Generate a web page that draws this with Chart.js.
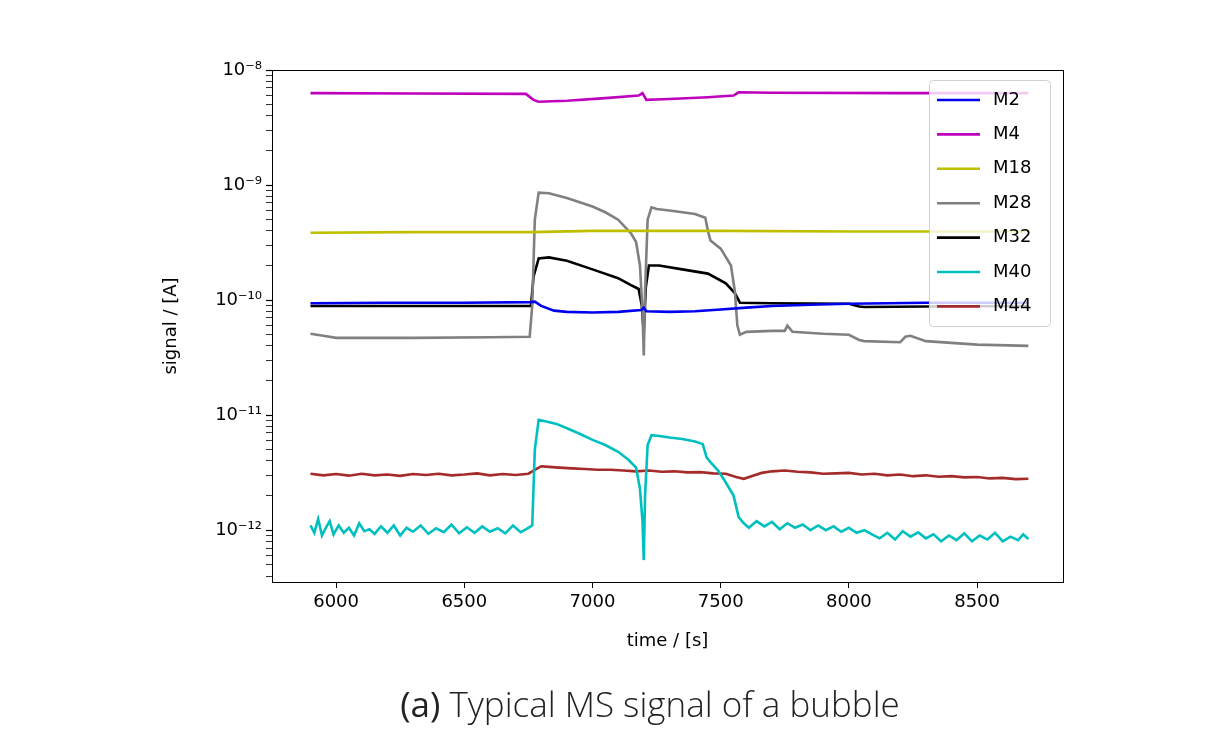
<!DOCTYPE html>
<html><head><meta charset="utf-8">
<script src="https://cdn.jsdelivr.net/npm/chart.js@4/dist/chart.umd.min.js"></script>
<style>
body{margin:0;background:#fff;width:1220px;height:740px;overflow:hidden;position:relative}
#c{position:absolute;left:0;top:0}
#cap{position:absolute;top:680px;left:40px;width:1220px;text-align:center;font-family:"Open Sans";font-weight:300;font-size:35px;color:#222}
</style></head><body>
<canvas id="c" width="1220" height="740"></canvas>
<div id="cap"><span style="font-weight:400">(a)</span> Typical MS signal of a bubble</div>
<script>
const seriesNames = ["M2","M4","M18","M28","M32","M40","M44"];
const seriesColors = ["#0000ee","#bf00bf","#bfbf00","#808080","#000000","#00bfbf","#a52a2a"];
const xTicks = [6000,6500,7000,7500,8000,8500];
const yTickPowers = [-8,-9,-10,-11,-12];

const m2T = [5900,6200,6500,6760,6775,6800,6850,6900,7000,7100,7190,7200,7210,7300,7400,7500,7600,7700,7850,8000,8300,8700];
const m2V = [9.4e-11,9.5e-11,9.5e-11,9.6e-11,9.7e-11,8.9e-11,8.1e-11,7.9e-11,7.8e-11,7.9e-11,8.2e-11,8.6e-11,8.0e-11,7.9e-11,8.0e-11,8.3e-11,8.6e-11,8.9e-11,9.1e-11,9.3e-11,9.5e-11,9.5e-11];

const m4T = [5900,6300,6740,6770,6790,6900,7050,7180,7195,7210,7300,7450,7550,7570,7700,8200,8700];
const m4V = [6.3e-9,6.25e-9,6.2e-9,5.5e-9,5.3e-9,5.4e-9,5.7e-9,6.0e-9,6.3e-9,5.5e-9,5.6e-9,5.8e-9,6.0e-9,6.4e-9,6.35e-9,6.3e-9,6.3e-9];

const m18T = [5900,6300,6760,7000,7500,8000,8700];
const m18V = [3.85e-10,3.9e-10,3.9e-10,4.0e-10,4.0e-10,3.95e-10,3.95e-10];

const m28T = [5900,5950,6000,6300,6600,6755,6765,6775,6790,6830,6900,7000,7050,7100,7150,7170,7185,7195,7200,7205,7215,7230,7250,7300,7400,7440,7450,7460,7500,7540,7555,7565,7575,7600,7700,7750,7760,7780,7900,8000,8040,8060,8200,8220,8240,8300,8500,8700];
const m28V = [5.1e-11,4.9e-11,4.7e-11,4.7e-11,4.75e-11,4.8e-11,9e-11,5e-10,8.6e-10,8.5e-10,7.7e-10,6.5e-10,5.8e-10,5e-10,3.8e-10,3.2e-10,2.0e-10,8e-11,3.3e-11,1.2e-10,5e-10,6.4e-10,6.2e-10,6.0e-10,5.6e-10,5.2e-10,4.0e-10,3.3e-10,2.8e-10,2.0e-10,1.2e-10,6e-11,5e-11,5.3e-11,5.4e-11,5.4e-11,6e-11,5.3e-11,5.1e-11,5e-11,4.5e-11,4.4e-11,4.3e-11,4.8e-11,4.9e-11,4.4e-11,4.1e-11,4.0e-11];

const m32T = [5900,6300,6760,6770,6790,6830,6900,7000,7100,7150,7180,7192,7200,7208,7220,7260,7350,7450,7520,7555,7575,7700,8000,8040,8060,8300,8700];
const m32V = [8.9e-11,8.9e-11,8.9e-11,1.6e-10,2.3e-10,2.35e-10,2.2e-10,1.85e-10,1.55e-10,1.35e-10,1.25e-10,9e-11,5.2e-11,1.3e-10,2.0e-10,2.0e-10,1.85e-10,1.7e-10,1.4e-10,1.15e-10,9.5e-11,9.4e-11,9.3e-11,8.8e-11,8.7e-11,8.8e-11,8.9e-11];

const m40T = [5900,5915,5930,5945,5960,5975,5990,6010,6030,6050,6070,6090,6110,6130,6150,6175,6200,6225,6250,6275,6300,6330,6360,6390,6420,6450,6480,6510,6540,6570,6600,6630,6660,6690,6720,6750,6765,6775,6790,6820,6860,6900,6950,7000,7050,7100,7140,7170,7185,7195,7200,7205,7215,7230,7260,7300,7350,7400,7430,7445,7460,7490,7520,7550,7570,7590,7610,7640,7670,7700,7730,7760,7790,7820,7850,7880,7910,7940,7970,8000,8030,8060,8090,8120,8150,8180,8210,8240,8270,8300,8330,8360,8390,8420,8450,8480,8510,8540,8570,8600,8630,8660,8680,8700];
const m40V = [1.1e-12,0.95e-12,1.25e-12,0.9e-12,1.05e-12,1.2e-12,0.92e-12,1.1e-12,0.95e-12,1.05e-12,0.9e-12,1.15e-12,0.98e-12,1.02e-12,0.93e-12,1.08e-12,0.95e-12,1.1e-12,0.9e-12,1.05e-12,0.97e-12,1.1e-12,0.93e-12,1.04e-12,0.96e-12,1.12e-12,0.94e-12,1.06e-12,0.95e-12,1.08e-12,0.97e-12,1.04e-12,0.94e-12,1.1e-12,0.96e-12,1.05e-12,1.1e-12,5e-12,9.1e-12,8.8e-12,8.4e-12,7.7e-12,6.9e-12,6.1e-12,5.5e-12,4.8e-12,4.1e-12,3.5e-12,2.3e-12,1.2e-12,5.5e-13,2e-12,5.5e-12,6.7e-12,6.6e-12,6.4e-12,6.2e-12,5.9e-12,5.6e-12,4.3e-12,3.9e-12,3.3e-12,2.6e-12,2.0e-12,1.3e-12,1.15e-12,1.05e-12,1.2e-12,1.08e-12,1.18e-12,1.02e-12,1.15e-12,1.05e-12,1.12e-12,1.0e-12,1.1e-12,1.0e-12,1.08e-12,0.97e-12,1.05e-12,0.95e-12,1.0e-12,0.92e-12,0.85e-12,0.95e-12,0.83e-12,0.98e-12,0.88e-12,0.96e-12,0.85e-12,0.92e-12,0.8e-12,0.9e-12,0.82e-12,0.94e-12,0.8e-12,0.9e-12,0.83e-12,0.95e-12,0.8e-12,0.88e-12,0.82e-12,0.92e-12,0.84e-12];

const m44T = [5900,5950,6000,6050,6100,6150,6200,6250,6300,6350,6400,6450,6500,6550,6600,6650,6700,6750,6780,6800,6830,6870,6920,6970,7020,7070,7120,7170,7220,7270,7320,7370,7420,7470,7520,7560,7590,7620,7660,7700,7750,7800,7850,7900,7950,8000,8050,8100,8150,8200,8250,8300,8350,8400,8450,8500,8550,8600,8650,8700];
const m44V = [3.1e-12,3.0e-12,3.08e-12,2.98e-12,3.1e-12,3.0e-12,3.05e-12,2.97e-12,3.08e-12,3.02e-12,3.1e-12,3.0e-12,3.05e-12,3.12e-12,3.0e-12,3.08e-12,3.02e-12,3.1e-12,3.4e-12,3.6e-12,3.55e-12,3.5e-12,3.45e-12,3.4e-12,3.35e-12,3.35e-12,3.3e-12,3.25e-12,3.3e-12,3.22e-12,3.25e-12,3.18e-12,3.2e-12,3.12e-12,3.1e-12,2.9e-12,2.8e-12,2.95e-12,3.15e-12,3.25e-12,3.3e-12,3.22e-12,3.18e-12,3.1e-12,3.12e-12,3.15e-12,3.05e-12,3.1e-12,3.0e-12,3.05e-12,2.95e-12,3.0e-12,2.92e-12,2.95e-12,2.88e-12,2.9e-12,2.82e-12,2.85e-12,2.78e-12,2.8e-12];

const allT = [m2T,m4T,m18T,m28T,m32T,m40T,m44T];
const allV = [m2V,m4V,m18V,m28V,m32V,m40V,m44V];

const sup = {"-":"⁻","0":"⁰","1":"¹","2":"²","3":"³","4":"⁴","5":"⁵","6":"⁶","7":"⁷","8":"⁸","9":"⁹"};
const FONT = "DejaVu Sans";

const datasets = seriesNames.map((n,i)=>({
  label:n,
  data: allT[i].map((t,k)=>({x:t,y:allV[i][k]})),
  borderColor: seriesColors[i], borderWidth:2.6, pointRadius:0, tension:0, fill:false
}));

const extras = {
  id:'extras',
  afterDraw(chart){
    const {ctx, chartArea:a} = chart;
    ctx.save();
    ctx.strokeStyle='#000'; ctx.lineWidth=1;
    ctx.strokeRect(a.left+0.5,a.top+0.5,a.right-a.left,a.bottom-a.top);
    ctx.fillStyle='#000'; ctx.font='18px "'+FONT+'"';
    ctx.textAlign='center'; ctx.textBaseline='middle';
    ctx.fillText('time / [s]',(a.left+a.right)/2,641);
    ctx.translate(171,(a.top+a.bottom)/2); ctx.rotate(-Math.PI/2);
    ctx.fillText('signal / [A]',0,0);
    ctx.restore();
    ctx.save();
    const lx=929, ly=80, lw=121, lh=246;
    ctx.fillStyle='rgba(255,255,255,0.8)'; ctx.strokeStyle='#d0d0d0'; ctx.lineWidth=1;
    ctx.beginPath(); ctx.roundRect(lx+0.5,ly+0.5,lw,lh,4); ctx.fill(); ctx.stroke();
    ctx.font='18px "'+FONT+'"'; ctx.textBaseline='middle'; ctx.textAlign='left';
    seriesNames.forEach((n,i)=>{
      const y=100+i*34.4;
      ctx.strokeStyle=seriesColors[i]; ctx.lineWidth=2.6;
      ctx.beginPath(); ctx.moveTo(937,y); ctx.lineTo(980,y); ctx.stroke();
      ctx.fillStyle='#000'; ctx.fillText(n,993,y);
    });
    ctx.restore();
  }
};

new Chart(document.getElementById('c'),{
  type:'line',
  data:{datasets},
  options:{
    responsive:false, animation:false,
    layout:{padding:{left:150,top:70,right:157,bottom:78}},
    plugins:{legend:{display:false},tooltip:{enabled:false}},
    scales:{
      x:{type:'linear',min:5750,max:8835,
        afterFit(s){s.height=80;},
        afterBuildTicks(s){s.ticks=xTicks.map(v=>({value:v}));},
        grid:{drawOnChartArea:false,tickLength:6,color:'#000'},
        border:{display:false},
        ticks:{color:'#000',font:{family:FONT,size:18},padding:4,maxRotation:0,callback:v=>String(v)}},
      y:{type:'logarithmic',min:Math.pow(10,-12.45),max:1e-8,
        afterFit(s){s.width=122;},
        afterBuildTicks(s){
          const t=[];
          for(let p=-13;p<=-9;p++) for(let m=1;m<=9;m++){const v=m*Math.pow(10,p); if(v>=s.min*0.999&&v<=s.max*1.001) t.push({value:v});}
          t.push({value:1e-8});
          s.ticks=t;
        },
        grid:{drawOnChartArea:false,tickLength:6,color:'#000',
          tickWidth:c=>{const l=Math.log10(c.tick.value);return Math.abs(l-Math.round(l))<1e-6?1.2:0.8;}},
        border:{display:false},
        ticks:{color:'#000',font:{family:FONT,size:18},padding:4,autoSkip:false,
          callback:v=>{const l=Math.log10(v);const r=Math.round(l);if(Math.abs(l-r)>1e-6||!yTickPowers.includes(r))return '';return '10'+String(r).split('').map(c=>sup[c]).join('');}}}
    }
  },
  plugins:[extras]
});
</script>
</body></html>
